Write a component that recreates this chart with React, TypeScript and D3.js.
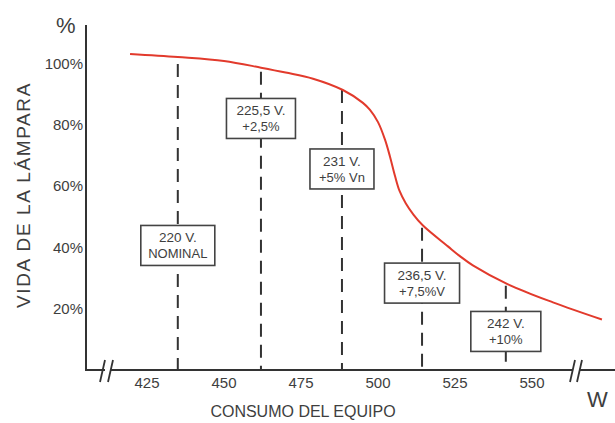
import React from "react";
import * as d3 from "d3";

// Curve: lamp life (%) vs. power consumption (W)
const powerW = [419.5, 435, 450, 462, 470, 478.9, 488.6, 495.1, 497.4, 500, 502.3, 503.9, 505.5, 507, 509, 511.5, 514.6, 522.7, 526.6, 530.8, 542.2, 556.8, 572.7];
const lifePct = [103.3, 102.3, 101, 98.8, 97.2, 95.2, 91.5, 87.3, 85, 81, 75.2, 69.7, 63.5, 58.5, 54.5, 50.8, 47.2, 40.4, 37.2, 34.2, 28, 22.1, 16.5];

// Voltage markers
const markerW = [435, 462, 488.3, 514.3, 541.5];
const markerTop = [100, 97.5, 91.5, 46.5, 27.5];
const boxLife = [40.7, 82.2, 65.7, 28.4, 12.6];
const boxLine1 = ["220 V.", "225,5 V.", "231 V.", "236,5 V.", "242 V."];
const boxLine2 = ["NOMINAL", "+2,5%", "+5% Vn", "+7,5%V", "+10%"];

const xTicks = [425, 450, 475, 500, 525, 550];
const yTicks = [20, 40, 60, 80, 100];

const W = 615;
const H = 423;
const FONT = "'Liberation Sans', Arial, Helvetica, sans-serif";
const TXT = "#3e3e3e";

export default function App() {
  const x = d3.scaleLinear().domain([425, 550]).range([147, 532]);
  const y = d3.scaleLinear().domain([0, 100]).range([370, 64]);
  const axisX0 = 86;
  const axisY0 = 370;

  const pts: [number, number][] = powerW.map((w, i) => [w, lifePct[i]]);
  const line = d3
    .line<[number, number]>()
    .x((d) => x(d[0]))
    .y((d) => y(d[1]))
    .curve(d3.curveCatmullRom.alpha(0.5));

  const boxW = [74, 69, 64, 75, 70];
  const boxH = 40;

  return (
    <svg
      width={W}
      height={H}
      viewBox={`0 0 ${W} ${H}`}
      style={{ position: "absolute", left: 0, top: 0, background: "#fff" }}
      fontFamily={FONT}
    >
      <rect x={0} y={0} width={W} height={H} fill="#fff" />

      {/* dashed marker lines */}
      {markerW.map((w, i) => (
        <line
          key={"d" + i}
          x1={x(w)}
          x2={x(w)}
          y1={y(markerTop[i])}
          y2={axisY0}
          stroke="#333"
          strokeWidth={2}
          strokeDasharray="13,8"
        />
      ))}

      {/* curve */}
      <path d={line(pts) || ""} fill="none" stroke="#e23a2c" strokeWidth={2} />

      {/* boxes */}
      {markerW.map((w, i) => {
        const cx = x(w);
        const cy = y(boxLife[i]);
        return (
          <g key={"b" + i}>
            <rect
              x={cx - boxW[i] / 2}
              y={cy - boxH / 2}
              width={boxW[i]}
              height={boxH}
              fill="#fff"
              stroke="#444"
              strokeWidth={1.6}
            />
            <text x={cx} y={cy - 3} textAnchor="middle" fontSize={13.5} fill={TXT}>
              {boxLine1[i]}
            </text>
            <text x={cx} y={cy + 13} textAnchor="middle" fontSize={13} fill={TXT}>
              {boxLine2[i]}
            </text>
          </g>
        );
      })}

      {/* y axis */}
      <line x1={axisX0} x2={axisX0} y1={25} y2={axisY0} stroke="#333" strokeWidth={2} />
      {yTicks.map((t) => (
        <text key={"yt" + t} x={83} y={y(t) + 5} textAnchor="end" fontSize={15} fill={TXT}>
          {t}%
        </text>
      ))}
      <text x={56} y={33} fontSize={22} fill={TXT}>%</text>

      {/* x axis with breaks */}
      <line x1={axisX0 - 1} x2={105} y1={axisY0} y2={axisY0} stroke="#333" strokeWidth={2} />
      <line x1={110} x2={573} y1={axisY0} y2={axisY0} stroke="#333" strokeWidth={2} />
      <line x1={579} x2={615} y1={axisY0} y2={axisY0} stroke="#333" strokeWidth={2} />
      {[100, 108, 570, 577].map((bx, i) => (
        <line key={"br" + i} x1={bx} y1={382} x2={bx + 5} y2={360} stroke="#333" strokeWidth={1.8} />
      ))}
      {xTicks.map((t) => (
        <text key={"xt" + t} x={x(t)} y={388} textAnchor="middle" fontSize={15} fill={TXT}>
          {t}
        </text>
      ))}
      <text x={303} y={417} textAnchor="middle" fontSize={16} fill={TXT}>
        CONSUMO DEL EQUIPO
      </text>
      <text x={587} y={407} fontSize={22} fill={TXT}>W</text>

      <text
        transform="translate(30,195) rotate(-90)"
        textAnchor="middle"
        fontSize={19}
        fill={TXT}
        letterSpacing={1.6}
      >
        VIDA DE LA LÁMPARA
      </text>
    </svg>
  );
}
